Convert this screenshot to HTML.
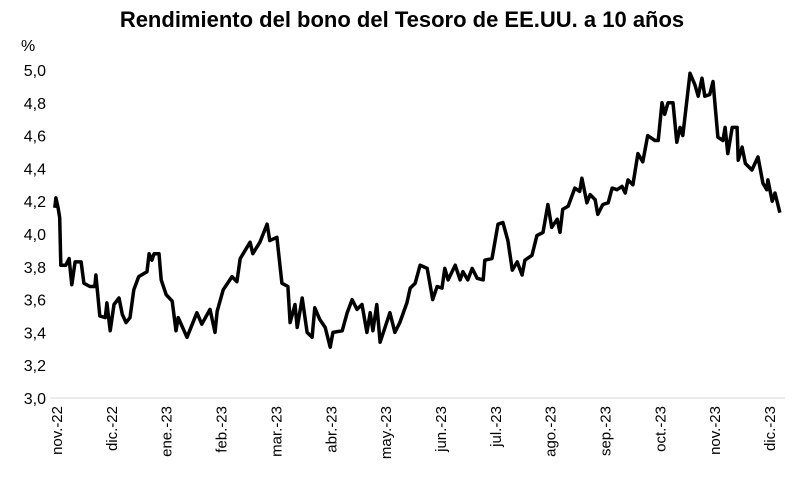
<!DOCTYPE html>
<html><head><meta charset="utf-8"><style>
body{margin:0;background:#fff;font-family:"Liberation Sans",Arial,sans-serif}
svg{display:block}
</style></head><body>
<svg id="chart" width="803" height="487">
<text x="402" y="27" text-anchor="middle" font-size="22" font-weight="bold">Rendimiento del bono del Tesoro de EE.UU. a 10 años</text>
<text x="21" y="51" font-size="16">%</text>
<line x1="50" y1="398" x2="785" y2="398" stroke="#d9d9d9"/>
<g id="yticks"></g><g id="xticks"></g><g id="series"></g>
</svg>
<script>
const months=["nov.-22","dic.-22","ene.-23","feb.-23","mar.-23","abr.-23","may.-23","jun.-23","jul.-23","ago.-23","sep.-23","oct.-23","nov.-23","dic.-23"];
const yTicks=[3.0,3.2,3.4,3.6,3.8,4.0,4.2,4.4,4.6,4.8,5.0];
const t=[-0.04,-0.02,0.02,0.05,0.07,0.16,0.22,0.27,0.33,0.44,0.49,0.60,0.69,0.71,0.78,0.88,0.91,0.97,1.04,1.13,1.19,1.26,1.33,1.40,1.49,1.64,1.68,1.73,1.77,1.86,1.90,1.99,2.10,2.17,2.21,2.37,2.55,2.64,2.79,2.88,2.92,3.03,3.19,3.28,3.34,3.52,3.57,3.70,3.83,3.88,4.01,4.10,4.21,4.25,4.34,4.38,4.47,4.56,4.65,4.70,4.79,4.89,4.98,5.03,5.20,5.29,5.38,5.47,5.56,5.65,5.71,5.76,5.83,5.89,5.98,6.07,6.16,6.25,6.38,6.44,6.53,6.62,6.75,6.85,6.93,7.02,7.07,7.13,7.26,7.35,7.40,7.49,7.57,7.66,7.77,7.80,7.93,8.04,8.13,8.22,8.30,8.39,8.48,8.53,8.66,8.75,8.86,8.95,9.02,9.12,9.17,9.22,9.32,9.44,9.53,9.57,9.66,9.72,9.81,9.86,9.95,10.05,10.12,10.21,10.30,10.36,10.41,10.50,10.59,10.68,10.77,10.90,10.96,11.03,11.08,11.14,11.23,11.30,11.36,11.41,11.54,11.63,11.69,11.76,11.81,11.90,11.96,12.05,12.14,12.18,12.23,12.31,12.40,12.42,12.49,12.55,12.67,12.78,12.87,12.94,12.96,13.04,13.09,13.18];
const yields=[4.16,4.22,4.16,4.10,3.81,3.81,3.85,3.69,3.83,3.83,3.70,3.68,3.68,3.75,3.50,3.49,3.58,3.41,3.57,3.61,3.51,3.46,3.49,3.66,3.74,3.77,3.88,3.84,3.88,3.88,3.72,3.63,3.59,3.41,3.49,3.37,3.52,3.45,3.54,3.40,3.53,3.66,3.74,3.71,3.85,3.95,3.88,3.95,4.06,3.96,3.98,3.70,3.68,3.46,3.57,3.43,3.61,3.40,3.37,3.55,3.48,3.43,3.31,3.40,3.41,3.52,3.60,3.54,3.57,3.40,3.52,3.41,3.57,3.34,3.43,3.52,3.40,3.46,3.58,3.67,3.70,3.81,3.79,3.60,3.68,3.67,3.79,3.72,3.81,3.72,3.77,3.72,3.79,3.73,3.72,3.84,3.85,4.06,4.07,3.96,3.78,3.83,3.75,3.84,3.87,3.99,4.01,4.18,4.04,4.09,4.01,4.15,4.17,4.28,4.26,4.34,4.19,4.24,4.21,4.12,4.18,4.19,4.28,4.27,4.29,4.25,4.33,4.30,4.49,4.44,4.60,4.57,4.57,4.80,4.73,4.80,4.80,4.56,4.65,4.60,4.98,4.91,4.84,4.95,4.84,4.85,4.93,4.59,4.57,4.65,4.49,4.65,4.65,4.45,4.53,4.43,4.39,4.47,4.31,4.27,4.33,4.20,4.25,4.13];
const NS="http://www.w3.org/2000/svg";
function xS(m){return 57+m*54.85;}
function yS(v){return 398-(v-3)*164;}
const yt=document.getElementById('yticks');
yTicks.forEach(v=>{
  const e=document.createElementNS(NS,'text');
  
  
  e.setAttribute('x',46);e.setAttribute('y',yS(v)+6);
  e.setAttribute('text-anchor','end');e.setAttribute('font-size','16');
  e.textContent=v.toFixed(1).replace('.',',');yt.appendChild(e);
});
const xt=document.getElementById('xticks');
months.forEach((m,i)=>{
  const e=document.createElementNS(NS,'text');
  
  
  const x=xS(i)+5,y=406;
  e.setAttribute('transform','translate('+x+','+y+') rotate(-90)');
  e.setAttribute('text-anchor','end');e.setAttribute('font-size','15');
  e.textContent=m;xt.appendChild(e);
});
const p=document.createElementNS(NS,'polyline');


p.setAttribute('points',t.map((m,i)=>xS(m).toFixed(1)+','+yS(yields[i]).toFixed(1)).join(' '));
p.setAttribute('fill','none');p.setAttribute('stroke','#000');p.setAttribute('stroke-width','3.5');p.setAttribute('stroke-linejoin','round');
document.getElementById('series').appendChild(p);
</script>
</body></html>
